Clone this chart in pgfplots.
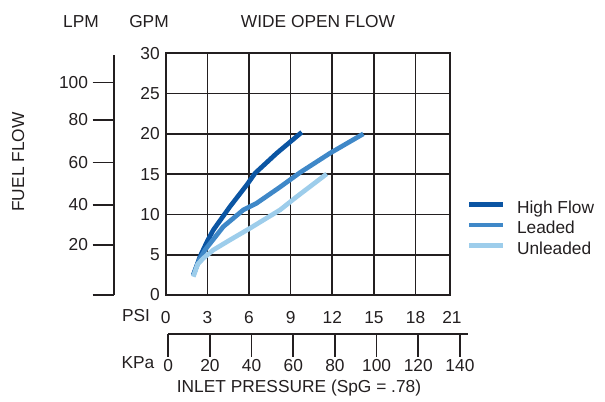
\documentclass[border=0pt]{standalone}
\usepackage{pgfplots}
\pgfplotsset{compat=1.18}
\usepackage{fontspec}
\setmainfont{Liberation Sans}
\definecolor{textc}{HTML}{231F20}
\definecolor{hf}{HTML}{0B55A3}
\definecolor{ld}{HTML}{3F88C8}
\definecolor{ul}{HTML}{9DCDEB}
\begin{document}
\begin{tikzpicture}[font=\fontsize{13}{15.6}\selectfont, text=textc]
\path (0,0) rectangle (453.75pt,301.5pt);
% ---------------- main grid axis (PSI / GPM)
\begin{axis}[
  at={(124.28pt,80.25pt)}, anchor=south west, scale only axis,
  width=213.2pt, height=181.3pt,
  xmin=0, xmax=20.48, ymin=0, ymax=30,
  xtick={0,3,...,18}, ytick={0,5,...,30},
  grid=major, grid style={line width=1.25pt, textc},
  axis line style={line width=1.5pt, textc},
  major tick length=0pt,
  /pgf/number format/assume math mode=true,
  tick label style={font=\fontsize{13}{15.6}\selectfont, text=textc},
  xticklabel style={inner sep=0pt, anchor=north, yshift=-12pt},
  yticklabel style={inner sep=0pt, anchor=east, xshift=-4.3pt},
  extra x ticks={20.48}, extra x tick labels={21},
  extra x tick style={grid=none, tick label style={xshift=1.5pt}},
  legend style={at={(1.0600,0.393)}, anchor=north west, draw=none, fill=none,
    inner sep=0pt, outer sep=0pt,
    nodes={inner sep=0pt, text height=10pt, text depth=5.5pt},
    font=\fontsize{13}{15.6}\selectfont, text=textc},
  legend cell align=left,
  legend image code/.code={\draw[#1] (0pt,4.6pt) -- (25.5pt,4.6pt); \path (34pt,4.6pt);},
]
\addplot[hf, line width=3.5pt, line join=round] coordinates {
 (1.99,2.48) (2.47,4.76) (3.0,6.7) (3.43,8.07) (4.63,10.97) (5.84,13.66) (6.43,15.1) (8.0,17.6) (9.8,20.2)};
\addlegendentry{High Flow}
\addplot[ld, line width=3.5pt, line join=round] coordinates {
 (1.99,2.48) (2.4,4.3) (2.83,5.59) (4.15,8.48) (5.59,10.56) (6.55,11.39) (8.24,13.4) (9.68,15.2) (11.84,17.6) (14.24,20.0)};
\addlegendentry{Leaded}
\addplot[ul, line width=3.5pt, line join=round] coordinates {
 (1.99,2.27) (2.3,3.8) (2.71,4.56) (3.43,5.59) (4.63,6.83) (6.07,8.28) (8.24,10.56) (9.44,12.2) (11.6,15.03)};
\addlegendentry{Unleaded}
\end{axis}
% ---------------- LPM axis
\begin{axis}[
  at={(85.7pt,80.25pt)}, anchor=south west, scale only axis,
  width=1pt, height=180pt,
  xmin=0, xmax=1, ymin=0, ymax=29.79,
  axis x line=none, axis y line=left,
  axis line style={-, line width=1.5pt, textc},
  ytick={0,6.21,11.18,16.43,21.74,26.37},
  yticklabels={,20,40,60,80,100},
  tick align=outside, major tick length=16.2pt,
  tick style={line width=1.3pt, textc},
  tick label style={font=\fontsize{13}{15.6}\selectfont, text=textc},
  yticklabel style={inner sep=0pt, anchor=east, xshift=-3.3pt},
]
\end{axis}
% ---------------- KPa axis
\begin{axis}[
  at={(126.2pt,50.8pt)}, anchor=south west, scale only axis,
  width=225pt, height=1pt,
  xmin=0, xmax=144, ymin=0, ymax=1,
  axis y line=none, axis x line=bottom,
  axis line style={-, line width=1.5pt, textc},
  xtick={0,20,...,140},
  tick align=outside, major tick length=17pt,
  tick style={line width=1.3pt, textc},
  /pgf/number format/assume math mode=true,
  tick label style={font=\fontsize{13}{15.6}\selectfont, text=textc},
  xticklabel style={inner sep=0pt, anchor=north, yshift=-1.9pt},
]
\end{axis}
% ---------------- texts
\node at (60.75pt,285pt) {LPM};
\node at (111.75pt,285pt) {GPM};
\node at (238.5pt,285pt) {WIDE OPEN FLOW};
\node[rotate=90] at (13.7pt,180pt) {FUEL FLOW};
\node at (102pt,65pt) {PSI};
\node at (103.5pt,29.5pt) {KPa};
\node at (224.25pt,10.3pt) {INLET PRESSURE (SpG = .78)};
\end{tikzpicture}
\end{document}
